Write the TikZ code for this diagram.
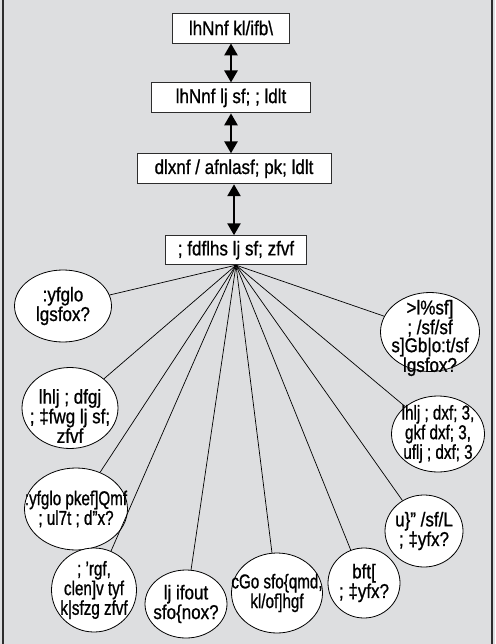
\documentclass[tikz,border=0pt]{standalone}
\usepackage{fontspec}
\setmainfont[FakeStretch=0.85,FakeBold=0.9]{Liberation Sans}
\usepackage{tikz}
\usetikzlibrary{arrows.meta,shapes.geometric,positioning}
\definecolor{panelgray}{RGB}{221,222,224}
\definecolor{edgegray}{RGB}{45,45,45}
\tikzset{
    box/.style={draw=edgegray, fill=white, line width=0.9pt, minimum height=30pt, inner sep=0pt,
        font=\fontsize{20}{16}\selectfont},
    blob/.style={ellipse, draw=black, fill=white, line width=0.8pt, inner sep=0pt},
    blobtext/.style={align=center, inner sep=0pt, font=\fontsize{20}{16}\selectfont},
    blobnarrow/.style={blobtext, font=\fontsize{20}{16}\selectfont\addfontfeatures{FakeStretch=0.76}},
    dblarrow/.style={{Triangle[width=13pt,length=12pt]}-{Triangle[width=13pt,length=12pt]}, line width=2.6pt},
    spoke/.style={line width=0.7pt},
}

\begin{document}
\begin{tikzpicture}[x=1pt,y=-1pt]
    \useasboundingbox (0,0) rectangle (495,644);
    \fill[panelgray] (0,0) rectangle (495,644);
    \draw[edgegray, line width=2pt] (3,0) -- (3,644);
    \draw[edgegray, line width=2pt] (492,0) -- (492,644);

    % boxes
    \node[box, minimum width=117pt] (parisad) at (231,28) {lhNnf kl/ifb\textbackslash};
    \node[box, minimum width=159pt] (samiti) [below=39pt of parisad] {lhNnf lj sf; ; ldlt};
    \node[box, minimum width=194pt] (upasamiti) [below=40pt of samiti, xshift=3pt] {dlxnf / afnlasf; pk; ldlt};
    \node[box, minimum width=141pt, minimum height=29pt] (samajik) [below=51pt of upasamiti, xshift=2pt] {; fdflhs lj sf; zfvf};

    \draw[dblarrow] (parisad.south) -- (parisad.south |- samiti.north);
    \draw[dblarrow] (samiti.south) -- (samiti.south |- upasamiti.north);
    \draw[dblarrow] (upasamiti.south) -- (upasamiti.south |- samajik.north);

    % circles
    \node[blob, minimum width=97pt, minimum height=72pt] (sthaniya) at (63,306) {};
    \node[blob, minimum width=99pt, minimum height=79pt] (pradesh) at (430,332) {};
    \node[blob, minimum width=96pt, minimum height=81pt] (manav) at (70,408) {};
    \node[blob, minimum width=93pt, minimum height=76pt] (mahasangh) at (438,434) {};
    \node[blob, minimum width=103pt, minimum height=82pt] (upabhokta) at (76,509) {};
    \node[blob, minimum width=85pt, minimum height=84pt] (suchana) at (94,590) {};
    \node[blob, minimum width=82pt, minimum height=68pt] (bisayagat) at (186,604) {};
    \node[blob, minimum width=91pt, minimum height=80pt] (anya) at (277,593) {};
    \node[blob, minimum width=72pt, minimum height=70pt] (datri) at (364,583) {};
    \node[blob, minimum width=78pt, minimum height=72pt] (gairsarkari) at (424,531) {};

    \foreach \c in {sthaniya,pradesh,manav,mahasangh,upabhokta,suchana,bisayagat,anya,datri,gairsarkari}
        \draw[spoke] (samajik.south) -- (\c);

    \node[blobtext] (sthaniya-t) at (sthaniya) {:yfglo\\lgsfox?};
    \node[blobtext, yshift=-6pt] (pradesh-t) at (pradesh) {>l\%sf]\\; /sf/sf\\s]Gb|o:t/sf\\lgsfox?};
    \node[blobtext, yshift=-8pt] (manav-t) at (manav) {lhlj ; dfgj\\; ‡fwg lj sf;\\zfvf};
    \node[blobnarrow] (mahasangh-t) at (mahasangh) {lhlj ; dxf; 3,\\gkf dxf; 3,\\uflj ; dxf; 3};
    \node[blobnarrow] (upabhokta-t) at (upabhokta) {:yfglo pkef]Qmf\\; ul7t ; d"x?};
    \node[blobnarrow] (suchana-t) at (suchana) {; 'rgf,\\clen]v tyf\\k|sfzg zfvf};
    \node[blobtext] (bisayagat-t) at (bisayagat) {lj ifout\\sfo\{nox?};
    \node[blobnarrow] (anya-t) at (anya) {cGo sfo\{qmd,\\kl/of]hgf};
    \node[blobtext] (datri-t) at (datri) {bft[\\; ‡yfx?};
    \node[blobtext] (gairsarkari-t) at (gairsarkari) {u\}" /sf/L\\; ‡yfx?};
\end{tikzpicture}
\end{document}
